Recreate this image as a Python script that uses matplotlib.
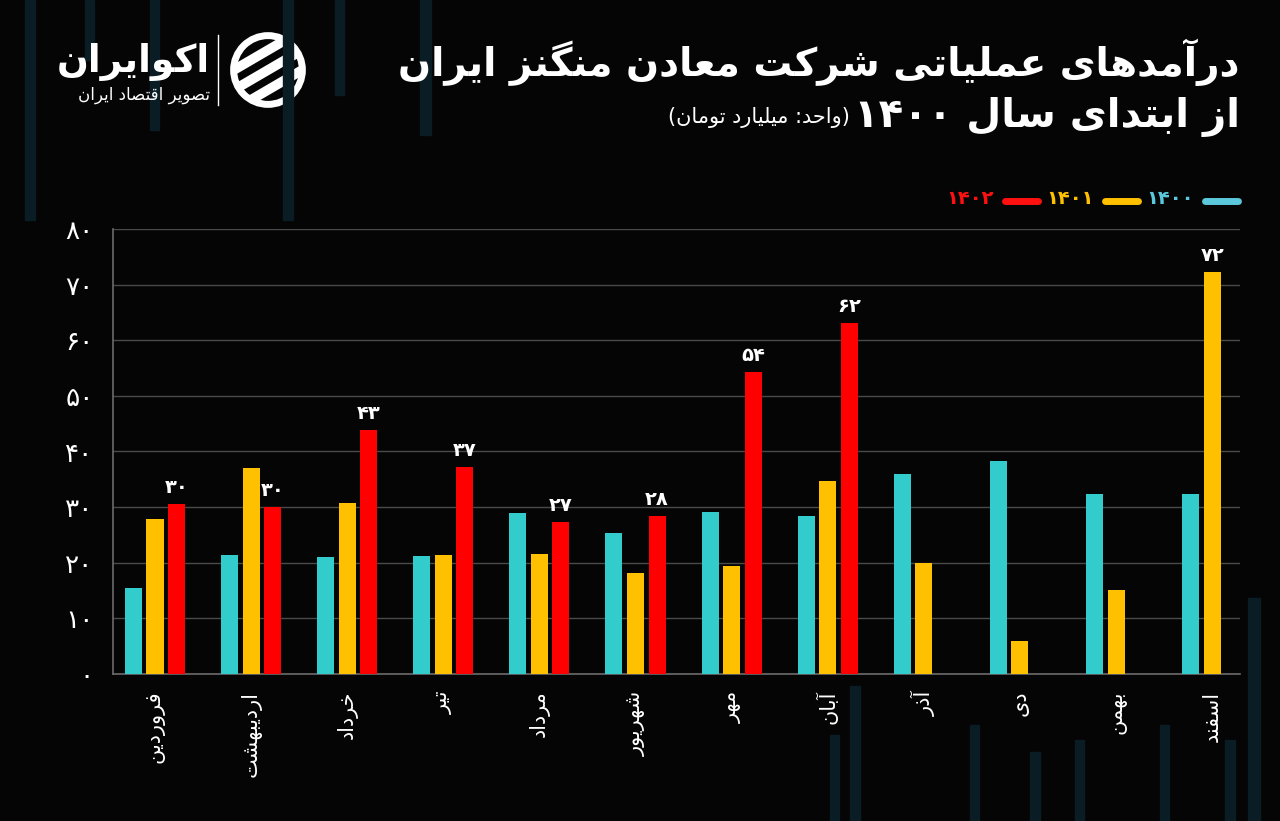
import re
import numpy as np
import matplotlib
matplotlib.use("Agg")
from matplotlib import pyplot as plt
from matplotlib.patches import Rectangle, Circle
from matplotlib.lines import Line2D

# ---- data ----
months = ['فروردین', 'اردیبهشت', 'خرداد', 'تیر', 'مرداد', 'شهریور',
          'مهر', 'آبان', 'آذر', 'دی', 'بهمن', 'اسفند']
rev_1400 = [15.5, 21.4, 21.0, 21.2, 29.0, 25.4, 29.1, 28.4, 36.0, 38.3, 32.4, 32.4]
rev_1401 = [27.9, 37.0, 30.8, 21.4, 21.6, 18.2, 19.4, 34.7, 20.0, 5.9, 15.1, 72.3]
rev_1402 = [30.6, 30.0, 43.9, 37.2, 27.3, 28.4, 54.3, 63.1]
labels_1402 = [30, 30, 43, 37, 27, 28, 54, 62]
label_1401_last = 72
years = ['1400', '1401', '1402']
yticks = [0, 10, 20, 30, 40, 50, 60, 70, 80]

colors = ['#33CCCC', '#FFC000', '#FF0000']
legend_text_colors = ['#5BC8DC', '#FFC000', '#FF1010']
BG = '#050505'

# ---- minimal persian shaping (matplotlib has no RTL / joining) ----
FORMS = {
  'ا': (0xFE8D, 0xFE8E, None, None), 'آ': (0xFE81, 0xFE82, None, None),
  'د': (0xFEA9, 0xFEAA, None, None), 'ذ': (0xFEAB, 0xFEAC, None, None),
  'ر': (0xFEAD, 0xFEAE, None, None), 'ز': (0xFEAF, 0xFEB0, None, None),
  'ژ': (0xFB8A, 0xFB8B, None, None), 'و': (0xFEED, 0xFEEE, None, None),
  'ب': (0xFE8F, 0xFE90, 0xFE91, 0xFE92), 'پ': (0xFB56, 0xFB57, 0xFB58, 0xFB59),
  'ت': (0xFE95, 0xFE96, 0xFE97, 0xFE98), 'ث': (0xFE99, 0xFE9A, 0xFE9B, 0xFE9C),
  'ج': (0xFE9D, 0xFE9E, 0xFE9F, 0xFEA0), 'چ': (0xFB7A, 0xFB7B, 0xFB7C, 0xFB7D),
  'ح': (0xFEA1, 0xFEA2, 0xFEA3, 0xFEA4), 'خ': (0xFEA5, 0xFEA6, 0xFEA7, 0xFEA8),
  'س': (0xFEB1, 0xFEB2, 0xFEB3, 0xFEB4), 'ش': (0xFEB5, 0xFEB6, 0xFEB7, 0xFEB8),
  'ص': (0xFEB9, 0xFEBA, 0xFEBB, 0xFEBC), 'ض': (0xFEBD, 0xFEBE, 0xFEBF, 0xFEC0),
  'ط': (0xFEC1, 0xFEC2, 0xFEC3, 0xFEC4), 'ظ': (0xFEC5, 0xFEC6, 0xFEC7, 0xFEC8),
  'ع': (0xFEC9, 0xFECA, 0xFECB, 0xFECC), 'غ': (0xFECD, 0xFECE, 0xFECF, 0xFED0),
  'ف': (0xFED1, 0xFED2, 0xFED3, 0xFED4), 'ق': (0xFED5, 0xFED6, 0xFED7, 0xFED8),
  'ک': (0xFB8E, 0xFB8F, 0xFB90, 0xFB91), 'گ': (0xFB92, 0xFB93, 0xFB94, 0xFB95),
  'ل': (0xFEDD, 0xFEDE, 0xFEDF, 0xFEE0), 'م': (0xFEE1, 0xFEE2, 0xFEE3, 0xFEE4),
  'ن': (0xFEE5, 0xFEE6, 0xFEE7, 0xFEE8), 'ه': (0xFEE9, 0xFEEA, 0xFEEB, 0xFEEC),
  'ی': (0xFBFC, 0xFBFD, 0xFBFE, 0xFBFF),
}


def shape(s):
  out = []
  for i, c in enumerate(s):
    if c not in FORMS:
      out.append(c)
      continue
    prev = s[i-1] if i > 0 else ''
    nxt = s[i+1] if i+1 < len(s) else ''
    joins_prev = prev in FORMS and FORMS[prev][2] is not None
    iso, fin, ini, med = FORMS[c]
    joins_next = ini is not None and nxt in FORMS
    if joins_prev and joins_next: code = med
    elif joins_prev: code = fin
    elif joins_next: code = ini
    else: code = iso
    out.append(chr(code))
  return ''.join(out)


def fa(s):
  # reshape, then lay out right-to-left keeping digit runs in order
  tokens = re.findall(r'[0-9۰-۹]+|.', shape(s))
  mirror = {'(': ')', ')': '('}
  return ''.join(mirror.get(t, t) for t in tokens[::-1])


def fa_num(n):
  return str(n).translate(str.maketrans('0123456789', '۰۱۲۳۴۵۶۷۸۹'))


def px(x, y):
  return x / 1280, 1 - y / 821


plt.rcParams['font.family'] = ['DejaVu Sans']
fig = plt.figure(figsize=(12.8, 8.21), dpi=100, facecolor=BG)

# faint background stripes (decoration of the original artwork)
stripes = [(25, 0, 10, 220), (85, 0, 9, 60), (150, 0, 9, 130), (283, 0, 10, 220),
           (335, 0, 9, 95), (420, 0, 11, 135), (850, 686, 10, 135), (830, 735, 9, 90),
           (1248, 598, 12, 223), (1030, 752, 10, 70), (1075, 740, 9, 81),
           (1160, 725, 9, 96), (1225, 740, 10, 81), (970, 725, 9, 96)]
for sx, sy, sw, sh in stripes:
  x0, y0 = px(sx, sy + sh)
  fig.patches.append(Rectangle((x0, y0), sw / 1280, sh / 821, transform=fig.transFigure,
                               color='#0B1D24', zorder=0))

ax = fig.add_axes([113/1280, 1-674/821, (1240-113)/1280, (674-229)/821])
ax.set_facecolor('none')

x = np.arange(len(months))
w = 0.177
off = 0.224
ax.bar(x - off, rev_1400, w, color=colors[0], zorder=3)
ax.bar(x, rev_1401, w, color=colors[1], zorder=3)
ax.bar(x[:len(rev_1402)] + off, rev_1402, w, color=colors[2], zorder=3)

for xi, v, lab in zip(x[:len(rev_1402)] + off, rev_1402, labels_1402):
  ax.text(xi, v + 1.3, fa_num(lab), color='white', ha='center', va='bottom',
          fontsize=14, fontweight='bold')
ax.text(x[-1], rev_1401[-1] + 1.3, fa_num(label_1401_last), color='white', ha='center',
        va='bottom', fontsize=14, fontweight='bold')

ax.set_xlim(-0.437, 11.29)
ax.set_ylim(0, 80)
ax.set_yticks(yticks)
ax.set_yticklabels([fa_num(t) for t in yticks], color='white', fontsize=19)
ax.set_xticks(x)
ax.set_xticklabels([fa(m) for m in months], rotation=90, color='white', fontsize=15,
                   va='top', ha='center')
ax.tick_params(length=0, pad=12)
ax.tick_params(axis='y', pad=14)
ax.grid(axis='y', color='#4A4A4A', linewidth=1, zorder=0)
for s in ['top', 'right']:
  ax.spines[s].set_visible(False)
for s in ['left', 'bottom']:
  ax.spines[s].set_color('#6A6A6A')
  ax.spines[s].set_linewidth(1.2)

# title
fig.text(*px(1240, 62), fa('درآمدهای عملیاتی شرکت معادن منگنز ایران'), color='white',
         fontsize=28, fontweight='bold', ha='right', va='center')
fig.text(*px(1240, 117), fa('از ابتدای سال ' + fa_num(1400)), color='white',
         fontsize=29, fontweight='bold', ha='right', va='center')
fig.text(*px(850, 118), fa('(واحد: میلیارد تومان)'), color='white',
         fontsize=15, ha='right', va='center')

# legend
leg_x = [1238, 1138, 1038]
for i, yr in enumerate(years):
  lx = leg_x[i]
  fig.lines.append(Line2D([(lx - 33) / 1280, lx / 1280], [1 - 201/821] * 2,
                          transform=fig.transFigure, color=legend_text_colors[i],
                          linewidth=5, solid_capstyle='round'))
  fig.text(*px(lx - 44, 199), fa_num(yr), color=legend_text_colors[i], fontsize=14,
           fontweight='bold', ha='right', va='center')

# logo
fig.text(*px(210, 62), fa('اکوایران'), color='white', fontsize=27, fontweight='bold',
         ha='right', va='center')
fig.text(*px(210, 95), fa('تصویر اقتصاد ایران'), color='white', fontsize=12,
         ha='right', va='center')
fig.lines.append(Line2D([218/1280] * 2, [1 - 35/821, 1 - 105/821], transform=fig.transFigure,
                        color='white', linewidth=1))
lax = fig.add_axes([228/1280, 1-108/821, 80/1280, 76/821])
lax.set_xlim(-1.05, 1.05)
lax.set_ylim(-1.05, 1.05)
lax.set_aspect('equal')
lax.axis('off')
ring = Circle((0, 0), 0.95, fill=False, edgecolor='white', linewidth=5)
lax.add_patch(ring)
clip = Circle((0, 0), 0.95, transform=lax.transData)
for k in [-0.55, 0.0, 0.55]:
  ln, = lax.plot([-1.2, 1.2], [-0.7 + k, 0.7 + k], color='white', linewidth=7)
  ln.set_clip_path(clip)

fig.savefig('out.png', dpi=100, facecolor=BG)
